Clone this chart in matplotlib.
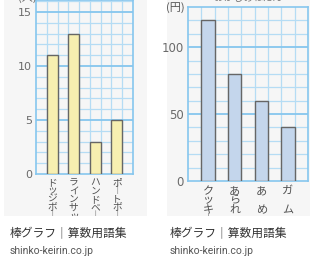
import matplotlib.pyplot as plt
from matplotlib.patches import Rectangle

plt.rcParams['font.family'] = ['Noto Sans CJK JP', 'DejaVu Sans']

# left chart: people per sport
sports = ["ドッジボール", "ラインサッカー", "ハンドベース", "ポートボール"]
people = [11, 13, 3, 5]
people_ticks = [0, 5, 10, 15]

# right chart: price of sweets
sweets = ["クッキー", "あられ", "あめ", "ガム"]
prices = [120, 80, 60, 40]
price_ticks = [0, 50, 100]

captions = ["棒グラフ｜算数用語集", "棒グラフ｜算数用語集"]
sources = ["shinko-keirin.co.jp", "shinko-keirin.co.jp"]

W, H = 320, 266
PANEL_BOTTOM = 216
fig = plt.figure(figsize=(W / 100, H / 100), dpi=100)

grid_c = "#b5dcf4"
major_c = "#86c6ee"
panel_c = "#f6f6f6"


def box(x0, y0, x1, y1):
    # pixel box (from top-left) -> figure fraction rect
    return [x0 / W, 1 - y1 / H, (x1 - x0) / W, (y1 - y0) / H]


def draw_chart(px, cats, vals, ticks, ymax, step, major, color, fs,
               lab_fs, first, gap):
    x0, y0, x1, y1 = px
    ax = fig.add_axes(box(x0, y0, x1, y1))
    ax.set_facecolor("none")
    ax.set_xlim(0, 9)
    ax.set_ylim(0, ymax)
    for i in range(1, 9):
        ax.axvline(i, color=grid_c, lw=0.9, zorder=1)
    y = step
    while y < ymax:
        is_major = abs(y / major - round(y / major)) < 1e-6
        ax.axhline(y, color=major_c if is_major else grid_c,
                   lw=1.3 if is_major else 0.9, zorder=1)
        y += step
    xs = [1.5 + 2 * i for i in range(len(cats))]
    ax.bar(xs, vals, width=1, color=color, edgecolor="#666666", lw=1.0, zorder=3)
    for sp in ax.spines.values():
        sp.set_color(major_c)
        sp.set_linewidth(1.2)
    ax.set_xticks([])
    ax.set_yticks(ticks)
    ax.set_yticklabels([str(t) for t in ticks], color="#6a6a6a", fontsize=fs,
                       family=["DejaVu Sans"])
    ax.tick_params(axis="y", length=0, pad=3)
    # vertical (tategaki) category labels, cut off at the panel bottom
    for x, c in zip(xs, cats):
        slots = [0, 2] if len(c) == 2 else range(len(c))
        for k, ch in zip(slots, c):
            dy = first + gap * k
            if y1 + dy - 4 > PANEL_BOTTOM:
                break
            ax.annotate("｜" if ch == "ー" else ch, (x, 0),
                        xytext=(0, -dy * 0.72), textcoords="offset points",
                        ha="center", va="center", fontsize=lab_fs,
                        color="#505050", annotation_clip=False)
    return ax


# gray panels
for x0, x1 in [(4, 147), (167, 310)]:
    bg = fig.add_axes(box(x0, 0, x1, PANEL_BOTTOM))
    bg.set_facecolor(panel_c)
    bg.set_xticks([])
    bg.set_yticks([])
    for sp in bg.spines.values():
        sp.set_visible(False)
    bg.set_zorder(-1)

draw_chart((36, 0, 133, 174), sports, people, people_ticks, 16.1, 1, 5,
           "#f7efb0", 8, 7, 8, 8.5)
draw_chart((188, 7, 308, 181), sweets, prices, price_ticks, 130, 10, 50,
           "#c4d6ec", 8.5, 8, 10, 9.5)

fig.text(27 / W, 1 - 3 / H, "(人)", ha="center", va="bottom", fontsize=8,
         color="#666666")
fig.text(175 / W, 1 - 8 / H, "(円)", ha="center", va="center", fontsize=8,
         color="#555555")
fig.text(248 / W, 1 - 3 / H, "おかしのねだん", ha="center", va="bottom",
         fontsize=7, color="#777777")

# white strip below the panels
fig.patches.append(Rectangle((0, 0), 1, 1 - PANEL_BOTTOM / H,
                             transform=fig.transFigure, facecolor="white",
                             edgecolor="none", zorder=5))

for x, cap, src in zip([10, 170], captions, sources):
    fig.text(x / W, 1 - 234 / H, cap, ha="left", va="center", fontsize=8.5,
             color="#333333", zorder=6)
    fig.text(x / W, 1 - 251 / H, src, ha="left", va="center", fontsize=7.5,
             color="#555555", family=["Roboto", "DejaVu Sans"], zorder=6)

fig.savefig("out.png", dpi=100)
